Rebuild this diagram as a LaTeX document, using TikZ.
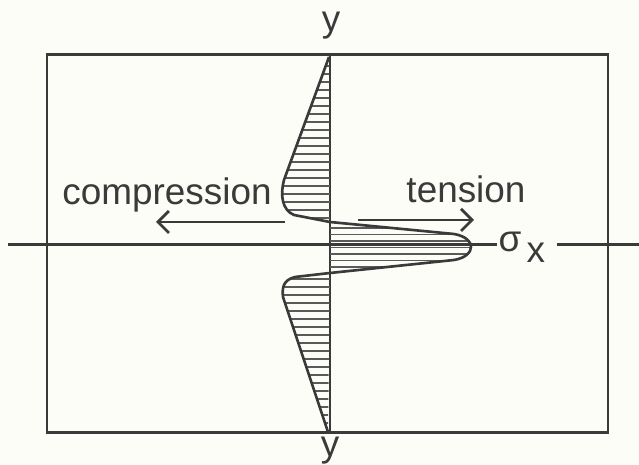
\documentclass[tikz,border=0pt]{standalone}
\usepackage{fontspec}
\setmainfont{Liberation Sans}
\usepackage{tikz}
\usetikzlibrary{arrows.meta}
\definecolor{plateInk}{HTML}{3A3A3A}
\definecolor{plateHatch}{HTML}{5A5A5A}
\definecolor{platePaper}{HTML}{FDFDF8}
\begin{document}
\begin{tikzpicture}[x=0.1mm,y=-0.1mm,
  axis/.style={draw=plateInk,line width=0.85pt},
  prof/.style={draw=plateInk,line width=0.75pt,line join=round},
  hatch/.style={draw=plateHatch,line width=0.45pt},
  arr/.style={-{Straight Barb[length=1.1mm,width=2.2mm]},plateInk,line width=0.8pt},
  lbl/.style={font=\fontsize{10.5}{12}\selectfont,text=plateInk,inner sep=0pt}]
  \fill[platePaper] (0,0) rectangle (639,465);
  \useasboundingbox (0,0) rectangle (639,465);
  % plate and axes
  \coordinate (tl) at (47,55);
  \coordinate (br) at (608,433);
  \draw[axis] (tl) rectangle (br);
  \coordinate (yt) at (330,55);
  \coordinate (yb) at (330,433);
  \coordinate (xl) at (8,245);
  \coordinate (xm) at (497,245);
  \coordinate (xn) at (557,245);
  \coordinate (xr) at (639,245);
  \draw[axis] (yt) -- (yb);
  \draw[axis] (xl) -- (xm);
  \draw[axis] (xn) -- (xr);
  % hatching
  \begin{scope}
    \clip (329,57) -- (284,180) .. controls (280,195) and (282,210) .. (294,215) -- (330,222) -- cycle;
    \foreach \hy in {66,74,...,222} \draw[hatch] (270,\hy) -- (330,\hy);
  \end{scope}
  \begin{scope}
    \clip (330,222) -- (454,234) .. controls (466,236) and (471,242) .. (471,247)
      .. controls (471,252) and (466,258) .. (454,260) -- (330,273) -- cycle;
    \foreach \hy in {228,234.5,...,272} \draw[hatch] (330,\hy) -- (475,\hy);
  \end{scope}
  \begin{scope}
    \clip (330,273) -- (295,277) .. controls (283,280) and (282,288) .. (283,297) -- (328,432) -- cycle;
    \foreach \hy in {279,287,...,430} \draw[hatch] (270,\hy) -- (330,\hy);
  \end{scope}
  % stress profile
  \draw[prof] (329,57) -- (284,180) .. controls (280,195) and (282,210) .. (294,215)
    -- (330,222) -- (454,234) .. controls (466,236) and (471,242) .. (471,247)
    .. controls (471,252) and (466,258) .. (454,260) -- (330,273) -- (295,277)
    .. controls (283,280) and (282,288) .. (283,297) -- (328,432);
  % labels
  \node[lbl,anchor=base] (ytop) at (331,32) {y};
  \node[lbl,anchor=base] (ybot) at (330,457) {y};
  \node[lbl,anchor=base] (comp) at (167,205) {compression};
  \node[lbl,anchor=base] (tens) at (466,203) {tension};
  \node[lbl,anchor=base west] (sig) at (498,252) {σ\hspace{1.5pt}\raisebox{-3pt}{x}};
  \coordinate (ca) at (285,222);
  \coordinate (cb) at (156,222);
  \coordinate (ta) at (358,220);
  \coordinate (tb) at (474,220);
  \draw[arr] (ca) -- (cb);
  \draw[arr] (ta) -- (tb);
\end{tikzpicture}
\end{document}
